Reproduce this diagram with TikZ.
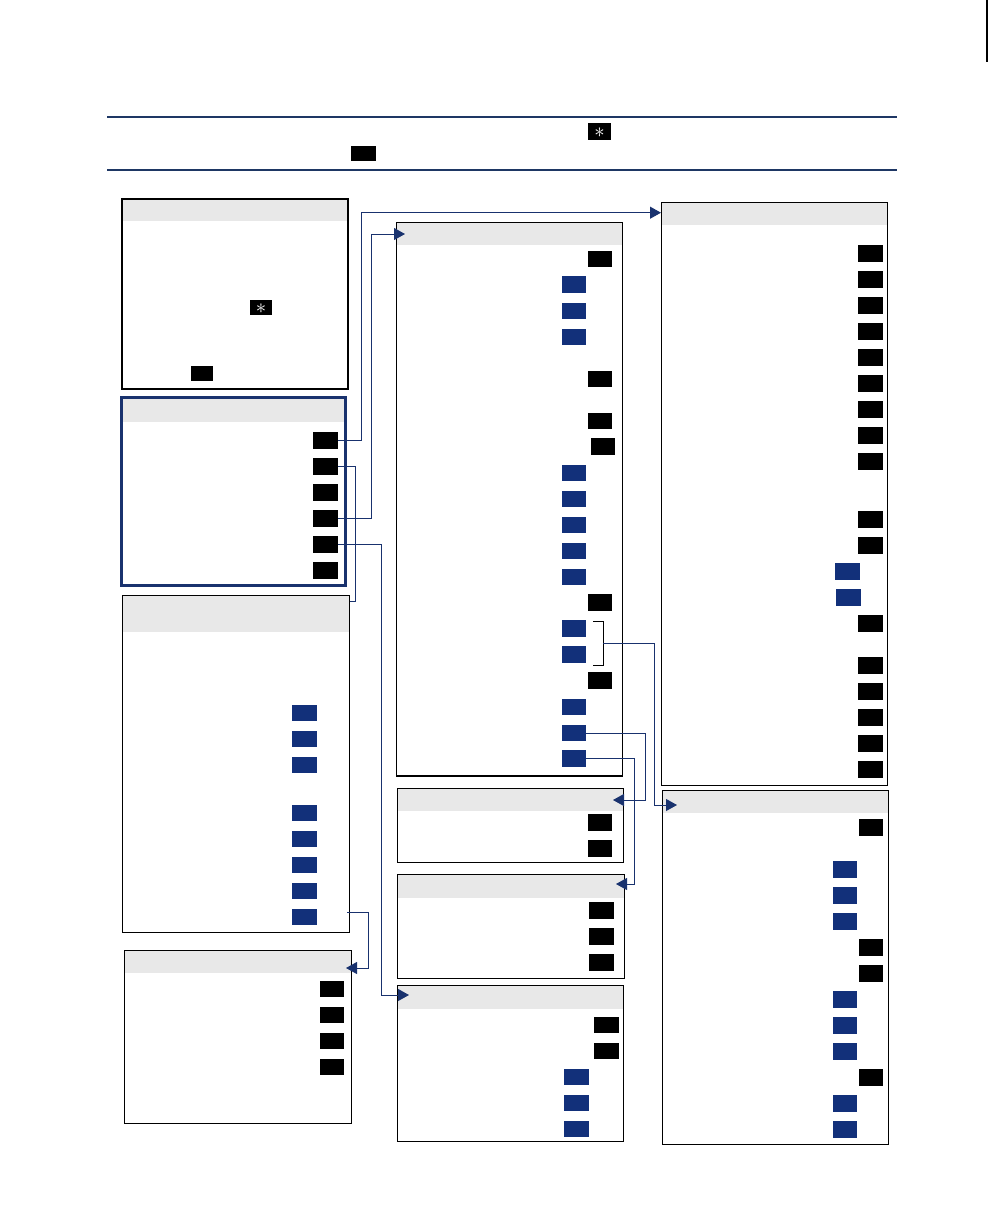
\documentclass[tikz,border=0pt]{standalone}
\usetikzlibrary{arrows.meta,fit}
\definecolor{navy}{RGB}{25,50,110}
\definecolor{btnblue}{RGB}{18,48,122}
\definecolor{hdrgray}{RGB}{232,232,232}
\definecolor{rulecol}{RGB}{30,55,100}
\tikzset{
  panel/.style={draw=black, line width=1.3pt, inner sep=0pt, fit={#1}},
  hdr/.style={fill=hdrgray},
  kb/.style={fill=black, draw=none, minimum width=24pt, minimum height=16.5pt, inner sep=0pt},
  bb/.style={fill=btnblue, draw=none, minimum width=24pt, minimum height=16.5pt, inner sep=0pt},
  starlbl/.style={text=white, font=\huge, inner sep=0pt},
  conn/.style={draw=navy, line width=1pt},
  arr/.style={conn, -{Triangle[length=11pt,width=12pt]}},
}
\begin{document}
\begin{tikzpicture}[x=1pt,y=-1pt]
\useasboundingbox (0,0) rectangle (1008,1224);

% top right mark
\coordinate (m1) at (987,0);
\coordinate (m2) at (987,62);
\draw[line width=1.3pt] (m1) -- (m2);

% rules
\coordinate (r1a) at (107,117); \coordinate (r1b) at (897,117);
\coordinate (r2a) at (107,170); \coordinate (r2b) at (897,170);
\draw[rulecol, line width=1.2pt] (r1a) -- (r1b);
\draw[rulecol, line width=1.2pt] (r2a) -- (r2b);
\node[kb, minimum width=23pt, minimum height=17pt] (tstar) at (599.5,131.5) {};
\node[starlbl] (tstarl) at ([yshift=-1pt]tstar.center) {$\ast$};
\node[kb, minimum width=25pt, minimum height=15pt] (tok) at (363.5,153.5) {};

% ---------- panel 1
\fill[hdr] (122,199) rectangle (348,221);
\node[panel={(122,199) (348,389)}] (p1) {};
\node[kb, minimum width=22pt, minimum height=15pt] (p1star) at (261,307.5) {};
\node[starlbl] (p1starl) at ([yshift=-1pt]p1star.center) {$\ast$};
\node[kb, minimum width=22pt, minimum height=15pt] (p1ok) at (202,373.5) {};

% ---------- panel 2 (highlighted)
\fill[hdr] (121,397) rectangle (346,422);
\node[draw=navy, line width=3pt, inner sep=0pt, fit={(121.5,397.5) (345.5,585.5)}] (p2) {};
\foreach \y [count=\i] in {440.5,466.5,492.5,518.5,544.5,570.5}
  \node[kb, minimum width=25pt] (p2b\i) at (325.5,\y) {};

% ---------- panel 3
\fill[hdr] (122.3,595.3) rectangle (349.7,631.7);
\node[panel={(122.3,595.3) (349.7,932.3)}] (p3) {};
\foreach \y [count=\i] in {713,739,765,813,839,865,891,917}
  \node[bb, minimum width=25pt, minimum height=16pt] (p3b\i) at (304.5,\y) {};

% ---------- panel 4
\fill[hdr] (124.3,950.3) rectangle (351.7,973);
\node[panel={(124.3,950.3) (351.7,1123.3)}] (p4) {};
\foreach \y [count=\i] in {989,1015,1041,1067}
  \node[kb, minimum height=16pt] (p4b\i) at (332,\y) {};

% ---------- panel 5
\fill[hdr] (396.7,222.3) rectangle (622.3,244.7);
\node[panel={(396.7,222.3) (622.3,776)}] (p5) {};
\foreach \s/\x/\y [count=\i] in {kb/600/259, bb/574/284.5, bb/574/311, bb/574/337, kb/600/379, kb/600/421, kb/603/446.5, bb/574/473, bb/574/499, bb/574/525, bb/574/551, bb/574/577, kb/600/602.5, bb/574/628.5, bb/574/654.5, kb/600/680.5, bb/574/707, bb/574/733, bb/574/758.5}
  \node[\s] (p5b\i) at (\x,\y) {};
% bracket
\coordinate (brt) at (593,621);
\coordinate (brb) at (593,665);
\coordinate (brm) at (603,643);
\draw[line width=1pt] (brt) -- (brt -| brm) -- (brb -| brm) -- (brb);

% ---------- panel 6
\fill[hdr] (397.3,788.3) rectangle (623.7,811);
\node[panel={(397.3,788.3) (623.7,862.3)}] (p6) {};
\foreach \y [count=\i] in {822.5,848.5}
  \node[kb] (p6b\i) at (600,\y) {};

% ---------- panel 7
\fill[hdr] (397.3,874.3) rectangle (624.3,897.7);
\node[panel={(397.3,874.3) (624.3,978.3)}] (p7) {};
\foreach \y [count=\i] in {910.5,936.5,962.5}
  \node[kb, minimum width=25pt] (p7b\i) at (601.5,\y) {};

% ---------- panel 8
\fill[hdr] (397.3,985.3) rectangle (623.7,1009);
\node[panel={(397.3,985.3) (623.7,1141.3)}] (p8) {};
\foreach \s/\x/\y [count=\i] in {kb/606.5/1025, kb/606.5/1051, bb/576.5/1077, bb/576.5/1103, bb/576.5/1129}
  \node[\s, minimum width=25pt, minimum height=16pt] (p8b\i) at (\x,\y) {};

% ---------- panel 9
\fill[hdr] (661.7,202.3) rectangle (887.3,224.7);
\node[panel={(661.7,202.3) (887.3,785.3)}] (p9) {};
\foreach \s/\x/\y [count=\i] in {kb/870.5/253.5, kb/870.5/279.5, kb/870.5/305.5, kb/870.5/331.5, kb/870.5/357.5, kb/870.5/383.5, kb/870.5/409.5, kb/870.5/435.5, kb/870.5/461.5, kb/870.5/519.5, kb/870.5/545.5, bb/847.5/571.5, bb/848.5/597.5, kb/870.5/623.5, kb/870.5/665.5, kb/870.5/691.5, kb/870.5/717.5, kb/870.5/743.5, kb/870.5/769.5}
  \node[\s, minimum width=25pt, minimum height=17pt] (p9b\i) at (\x,\y) {};

% ---------- panel 10
\fill[hdr] (662.3,790.3) rectangle (888.3,812.7);
\node[panel={(662.3,790.3) (888.3,1144.3)}] (p10) {};
\foreach \s/\x/\y [count=\i] in {kb/871/827.5, bb/845/869.5, bb/845/895.5, bb/845/921.5, kb/871/947.5, kb/871/973.5, bb/845/999.5, bb/845/1025.5, bb/845/1051.5, kb/871/1077.5, bb/845/1103.5, bb/845/1129.5}
  \node[\s, minimum height=17pt] (p10b\i) at (\x,\y) {};

% ---------- connectors
\coordinate (t9) at (661,212.7);
\coordinate (t5) at (405,234);
\coordinate (t8) at (409,995);
\coordinate (t4) at (346,968);
\coordinate (t6) at (613,800);
\coordinate (t7) at (616,884);
\coordinate (t10) at (677,805);
\coordinate (t3) at (349.7,601.5);

\draw[arr] (p2b1.east) -- (361.5,440.5) -- (361.5,212.7) -- (t9);
\draw[conn] (p2b2.east) -- (355,466.5) -- (355,601.5) -- (t3);
\draw[arr] (p2b4.east) -- (371,518.5) -- (371,234) -- (t5);
\draw[arr] (p2b5.east) -- (381,544.5) -- (381,995) -- (t8);
\coordinate (s3) at (347,912);
\draw[arr] (s3) -- (368,912) -- (368,968) -- (t4);
\draw[arr] (brm) -- (654,643) -- (654,805) -- (t10);
\draw[arr] (p5b18.east) -- (645.7,733) -- (645.7,800) -- (t6);
\draw[arr] (p5b19.east) -- (634,758.5) -- (634,884) -- (t7);
\end{tikzpicture}
\end{document}
